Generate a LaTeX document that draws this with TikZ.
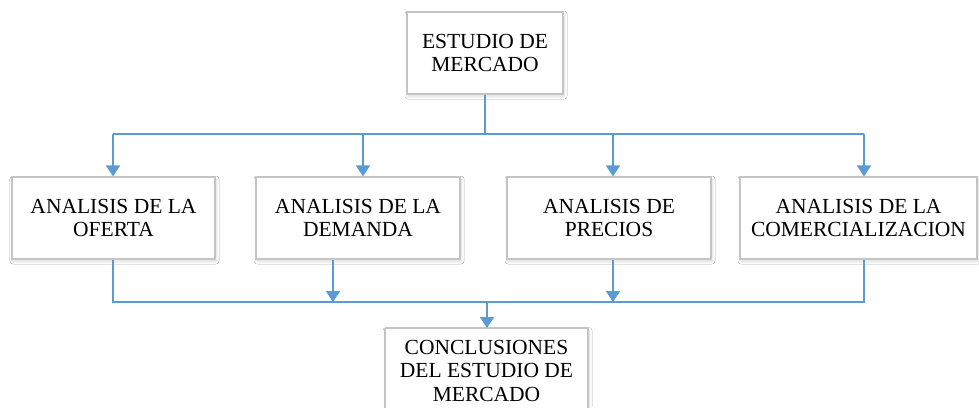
\documentclass[tikz,border=0pt]{standalone}
\usepackage{fontspec}
\setmainfont{Liberation Serif}
\usetikzlibrary{arrows.meta,shadows.blur}
\definecolor{lineblue}{HTML}{5B9BD5}
\definecolor{boxgray}{HTML}{C4C4C4}
\begin{document}
\begin{tikzpicture}[x=1pt,y=-1pt,
  box/.style={draw=boxgray, line width=1.2pt, fill=white, align=center, inner sep=0pt,
    font=\fontsize{21.5}{23.5}\selectfont,
    blur shadow={shadow xshift=1pt, shadow yshift=-2pt, shadow blur steps=6, shadow opacity=15, shadow blur radius=3pt}},
  conn/.style={draw=lineblue, line width=1.8pt},
  arr/.style={conn, -{Triangle[width=14pt,length=11pt]}}]
\useasboundingbox (0,0) rectangle (979,407);
\clip (0,0) rectangle (979,407);
\fill[white] (0,0) rectangle (979,407);

\node[box, minimum width=156pt, minimum height=82pt] (top) at (485,53) {ESTUDIO DE\\MERCADO};
\node[box, minimum width=203pt, minimum height=82pt] (b1) at (113.5,218) {ANALISIS DE LA\\OFERTA};
\node[box, minimum width=204pt, minimum height=82pt] (b2) at (358,218) {ANALISIS DE LA\\DEMANDA};
\node[box, minimum width=204pt, minimum height=82pt] (b3) at (609,218) {ANALISIS DE\\PRECIOS};
\node[box, minimum width=237pt, minimum height=82pt] (b4) at (858.5,218) {ANALISIS DE LA\\COMERCIALIZACION};
\node[box, minimum width=203pt, minimum height=84pt, anchor=north] (bot) at (486.5,328) {CONCLUSIONES\\DEL ESTUDIO DE\\MERCADO};

\coordinate (tj) at (485,134);
\coordinate (c1) at (113,134);
\coordinate (c2) at (363,134);
\coordinate (c3) at (613,134);
\coordinate (c4) at (864,134);
\coordinate (d1) at (113,302);
\coordinate (d2) at (333,302);
\coordinate (d3) at (613,302);
\coordinate (d4) at (864,302);
\coordinate (dj) at (487,302);

\draw[conn] (top.south) -- (tj);
\draw[conn] (c1) -- (c4);
\draw[arr] (c1) -- (c1 |- b1.north);
\draw[arr] (c2) -- (c2 |- b2.north);
\draw[arr] (c3) -- (c3 |- b3.north);
\draw[arr] (c4) -- (c4 |- b4.north);

\draw[conn] (d1 |- b1.south) -- (d1) -- (d4) -- (d4 |- b4.south);
\draw[arr] (d2 |- b2.south) -- (d2);
\draw[arr] (d3 |- b3.south) -- (d3);
\draw[arr] (dj) -- (dj |- bot.north);
\end{tikzpicture}
\end{document}
